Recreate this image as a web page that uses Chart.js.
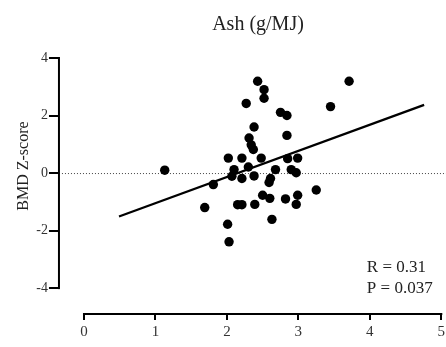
<!DOCTYPE html>
<html>
<head>
<meta charset="utf-8">
<script src="https://cdn.jsdelivr.net/npm/chart.js@4/dist/chart.umd.min.js"></script>
<style>
  html, body { margin: 0; padding: 0; background: #fff; }
  #wrap { width: 446px; height: 347px; }
</style>
</head>
<body>
<div id="wrap"><canvas id="myChart"></canvas></div>
<script>
// values
const ashValues = [
  2.43, 2.52, 2.52, 2.27, 3.71, 3.45, 2.75, 2.84, 2.38, 2.84,
  2.31, 2.34, 2.37, 2.02, 2.21, 2.48, 2.85, 2.99, 2.30, 2.10,
  2.68, 2.90, 2.97, 2.07, 2.21, 2.38, 2.61, 2.59, 1.81, 3.25,
  2.50, 2.60, 2.82, 2.99, 2.97, 2.15, 2.21, 2.39, 1.69, 2.63,
  2.01, 2.03, 1.13
];
const zScores = [
  3.19, 2.90, 2.60, 2.42, 3.19, 2.31, 2.11, 2.00, 1.60, 1.31,
  1.22, 0.98, 0.82, 0.52, 0.52, 0.52, 0.50, 0.52, 0.21, 0.12,
  0.12, 0.12, 0.01, -0.11, -0.19, -0.10, -0.19, -0.33, -0.40, -0.59,
  -0.77, -0.88, -0.90, -0.77, -1.09, -1.10, -1.10, -1.09, -1.20, -1.61,
  -1.78, -2.39, 0.10
];

// regression line ends
const fitX = [0.49, 4.76];
const fitY = [-1.51, 2.37];

const xTicks = [0, 1, 2, 3, 4, 5];
const yTicks = [-4, -2, 0, 2, 4];

const chartTitle = 'Ash (g/MJ)';
const yLabel = 'BMD Z-score';
const statLines = ['R = 0.31', 'P = 0.037'];

const serif = "'Liberation Serif', 'Times New Roman', serif";

const points = ashValues.map((v, i) => ({ x: v, y: zScores[i] }));
const fitLine = fitX.map((v, i) => ({ x: v, y: fitY[i] }));

// detached axes, dotted zero line, titles and stats text
const prismAxes = {
  id: 'prismAxes',
  beforeDatasetsDraw(chart) {
    const { ctx, chartArea } = chart;
    const y0 = chart.scales.y.getPixelForValue(0);
    ctx.save();
    ctx.strokeStyle = '#444';
    ctx.lineWidth = 1;
    ctx.setLineDash([1, 2]);
    ctx.beginPath();
    ctx.moveTo(chartArea.left, y0 + 0.5);
    ctx.lineTo(chart.width, y0 + 0.5);
    ctx.stroke();
    ctx.restore();
  },
  afterDraw(chart) {
    const { ctx, chartArea } = chart;
    const xs = chart.scales.x;
    const ys = chart.scales.y;
    ctx.save();
    ctx.strokeStyle = '#000';
    ctx.lineWidth = 2;
    ctx.lineCap = 'square';

    // y axis line
    const yTop = ys.getPixelForValue(yTicks[yTicks.length - 1]);
    const yBot = ys.getPixelForValue(yTicks[0]);
    ctx.beginPath();
    ctx.moveTo(chartArea.left, yBot);
    ctx.lineTo(chartArea.left, yTop);
    ctx.stroke();

    // x axis line
    ctx.beginPath();
    ctx.moveTo(xs.getPixelForValue(xTicks[0]), chartArea.bottom);
    ctx.lineTo(xs.getPixelForValue(xTicks[xTicks.length - 1]), chartArea.bottom);
    ctx.stroke();

    // title
    ctx.fillStyle = '#222';
    ctx.font = '20px ' + serif;
    ctx.textAlign = 'center';
    ctx.textBaseline = 'alphabetic';
    ctx.fillText(chartTitle, 258, 30);

    // y axis title, centred a bit above the middle of the y axis
    ctx.save();
    ctx.translate(24, (yTop + yBot) / 2 - 7);
    ctx.rotate(-Math.PI / 2);
    ctx.font = '16px ' + serif;
    ctx.textBaseline = 'middle';
    ctx.fillText(yLabel, 0, 0);
    ctx.restore();

    // R and P
    ctx.font = '17px ' + serif;
    ctx.textAlign = 'left';
    ctx.textBaseline = 'middle';
    const tx = xs.getPixelForValue(4) - 3;
    ctx.fillText(statLines[0], tx, ys.getPixelForValue(-3.27));
    ctx.fillText(statLines[1], tx, ys.getPixelForValue(-4.0));
    ctx.restore();
  }
};

const config = {
  type: 'scatter',
  data: {
    datasets: [
      {
        label: 'data',
        data: points,
        backgroundColor: '#000',
        borderWidth: 0,
        pointRadius: 4.7,
      },
      {
        label: 'fit',
        data: fitLine,
        showLine: true,
        borderColor: '#000',
        borderWidth: 2.3,
        pointRadius: 0,
      },
    ],
  },
  options: {
    responsive: true,
    maintainAspectRatio: false,
    animation: false,
    layout: { padding: { top: 58, bottom: 3, left: 35.3, right: 0 } },
    plugins: {
      legend: { display: false },
      tooltip: { enabled: false },
    },
    scales: {
      x: {
        type: 'linear',
        min: -0.35,
        max: 5,
        afterBuildTicks: (s) => { s.ticks = xTicks.map(v => ({ value: v })); },
        // let the "5" run to the canvas edge like the original
        afterFit: (s) => { s.paddingRight = 0; },
        grid: { drawOnChartArea: false, drawTicks: true, tickLength: 6, color: '#000', lineWidth: 2 },
        border: { display: false },
        ticks: { color: '#333', padding: 3, font: { family: serif, size: 15 } },
      },
      y: {
        type: 'linear',
        min: -4.9,
        max: 4,
        afterBuildTicks: (s) => { s.ticks = yTicks.map(v => ({ value: v })); },
        grid: { drawOnChartArea: false, drawTicks: true, tickLength: 10, color: '#000', lineWidth: 2 },
        border: { display: false },
        ticks: { color: '#333', padding: 1, font: { family: serif, size: 14 } },
      },
    },
  },
  plugins: [prismAxes],
};

const myChart = new Chart(document.getElementById('myChart'), config);
</script>
</body>
</html>
